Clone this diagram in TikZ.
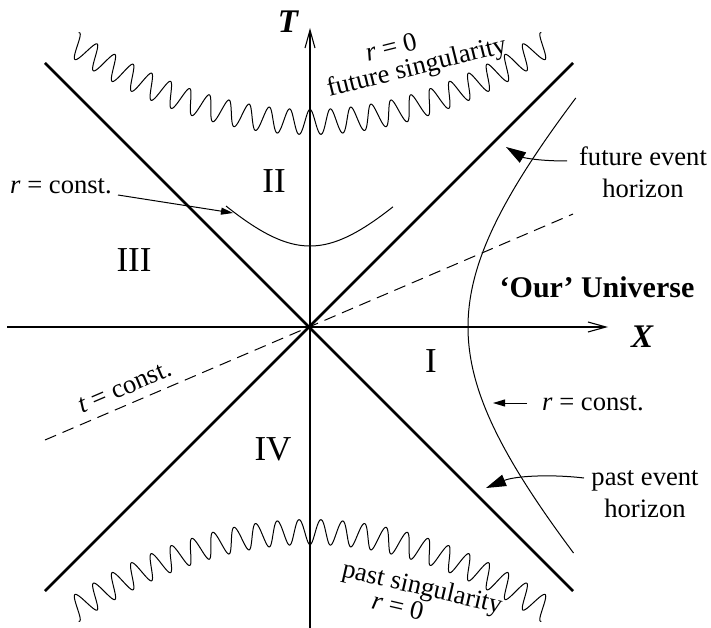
\documentclass[tikz,border=0pt]{standalone}
\usepackage{fontspec}
\setmainfont{Liberation Serif}
\usetikzlibrary{arrows.meta}
\begin{document}
\begin{tikzpicture}[x=1pt,y=-1pt,
  declare function={pp(\t)=0.0028*\t; nn(\t)=sqrt(1+pp(\t)*pp(\t)); ss(\t)=(pp(\t)*nn(\t)+ln(pp(\t)+nn(\t)))/0.0056; ph(\t)=16.98*ss(\t);},
  lbl/.style={font=\fontsize{26.6}{32}\selectfont, inner sep=0pt, align=center},
  boldlbl/.style={font=\fontsize{30}{34}\selectfont\bfseries, inner sep=0pt},
  axlbl/.style={font=\fontsize{33}{36}\selectfont\bfseries\itshape, inner sep=0pt},
  roman/.style={font=\fontsize{35}{40}\selectfont, inner sep=0pt},
  horizonline/.style={line width=2.8pt},
  axisline/.style={line width=1.1pt, -{Straight Barb[length=18pt,width=10pt]}},
  thincurve/.style={line width=1pt},
  dashline/.style={line width=1pt, dash pattern=on 12pt off 7pt},
  bigarrow/.style={line width=1pt, -{Triangle[length=20pt,width=12pt]}},
  smallarrow/.style={line width=1pt, -{Triangle[length=12pt,width=7pt]}},
  wiggle/.style={line width=1pt},
]
\useasboundingbox (0,0) rectangle (711,628);

% axes
\coordinate (xl) at (7,327); \coordinate (xr) at (608,327);
\coordinate (tb) at (310,628); \coordinate (tt) at (310,28);
\draw[axisline] (xl) -- (xr);
\draw[axisline] (tb) -- (tt);
\node[axlbl] (Tl) at (288,22) {T};
\node[axlbl] (Xl) at (642,337) {X};

% horizons
\coordinate (ul) at (45,63); \coordinate (lr) at (573,591);
\coordinate (ll) at (45,591); \coordinate (ur) at (573,63);
\draw[horizonline] (ul) -- (lr);
\draw[horizonline] (ll) -- (ur);

% t = const
\coordinate (d1) at (45,440); \coordinate (d2) at (573,214);
\draw[dashline] (d1) -- (d2);
\node[lbl, rotate=23.2, anchor=base west] (tc) at (82,414) {\textit{t} = const.};

% singularities
\draw[wiggle] plot[domain=-238:238, samples=700, variable=\t]
  ({310+\t-12.5*cos(ph(\t))*pp(\t)/nn(\t)},
   {327-(205+14*(\t/100)*(\t/100))-12.5*cos(ph(\t))/nn(\t)});
\draw[wiggle] plot[domain=-238:238, samples=700, variable=\t]
  ({310+\t-12.5*cos(ph(\t))*pp(\t)/nn(\t)},
   {327+(205+14*(\t/100)*(\t/100))+12.5*cos(ph(\t))/nn(\t)});

\node[lbl, rotate=14] (r0top) at (391,47) {\textit{r} = 0};
\node[lbl, rotate=14] (fs) at (417,68) {future singularity};
\node[lbl, rotate=-13] (ps) at (422,589) {past singularity};
\node[lbl, rotate=-13] (r0bot) at (398,606) {\textit{r} = 0};

% r = const curves
\draw[thincurve] plot[domain=-84:83, samples=80, variable=\t]
  ({310+\t},{327-100*sqrt(1.145*(\t/100)*(\t/100)+0.6561)});
\draw[thincurve] plot[domain=-226:229, samples=150, variable=\t]
  ({310+100*sqrt(0.871*(\t/100)*(\t/100)+2.4964)},{327-\t});

% regions
\node[roman] (rII) at (274,181) {II};
\node[roman] (rIII) at (134,260) {III};
\node[roman] (rI) at (431,361) {I};
\node[roman] (rIV) at (273,449) {IV};
\node[boldlbl] (ou) at (597,287) {‘Our’ Universe};

% labels with arrows
\node[lbl] (rcl) at (61,186) {\textit{r} = const.};
\coordinate (rcls) at (118,195); \coordinate (rclt) at (233,213);
\draw[smallarrow] (rcls) -- (rclt);

\node[lbl] (rcr) at (593,403) {\textit{r} = const.};
\coordinate (rcrs) at (527,403); \coordinate (rcrt) at (493,403);
\draw[smallarrow] (rcrs) -- (rcrt);

\node[lbl] (feh) at (643,172) {future event\\horizon};
\coordinate (fes) at (567,161); \coordinate (fet) at (506,147);
\draw[bigarrow] (fes) .. controls (535,161) and (522,157) .. (fet);

\node[lbl] (peh) at (645,494) {past event\\horizon};
\coordinate (pes) at (584,478); \coordinate (pet) at (486,488);
\draw[bigarrow] (pes) .. controls (550,474) and (515,476) .. (pet);
\end{tikzpicture}
\end{document}
